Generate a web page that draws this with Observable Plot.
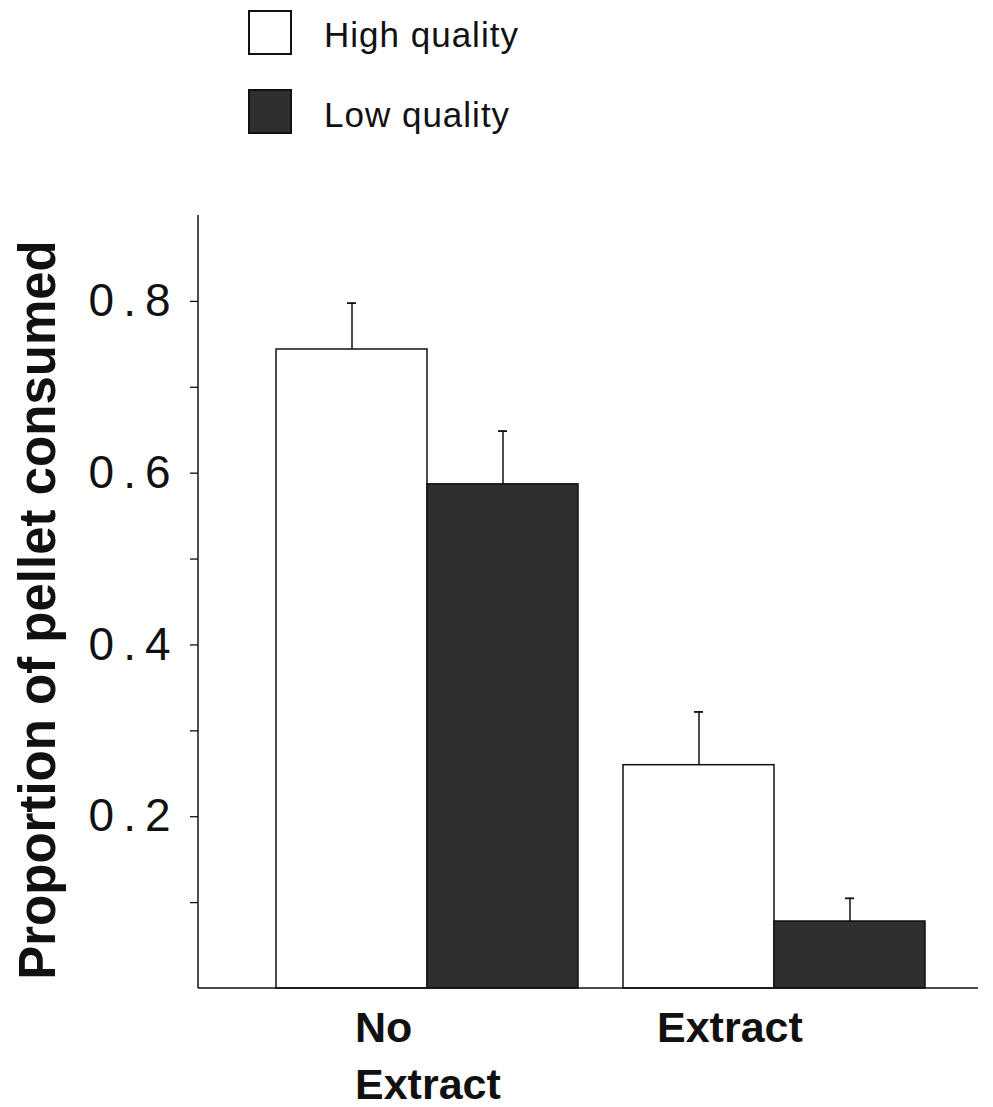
<!DOCTYPE html>
<html>
<head>
<meta charset="utf-8">
<script src="https://cdn.jsdelivr.net/npm/d3@7"></script>
<script src="https://cdn.jsdelivr.net/npm/@observablehq/plot@0.6"></script>
<style>
  body { margin: 0; background: #fff; font-family: "Liberation Sans", Arial, Helvetica, sans-serif; }
  #wrap { position: relative; width: 993px; height: 1107px; overflow: hidden; }
  .legend-box { position: absolute; left: 248px; width: 40px; height: 41px; border: 2px solid #111; }
  .legend-text { position: absolute; left: 324px; font-size: 35px; letter-spacing: 1px; color: #111; line-height: 1; }
  #chart { position: absolute; left: 0; top: 180px; }
</style>
</head>
<body>
<div id="wrap">
  <div class="legend-box" style="top:10px; background:#fff;"></div>
  <div class="legend-text" style="top:17px;">High quality</div>
  <div class="legend-box" style="top:89px; background:#2f2f2f;"></div>
  <div class="legend-text" style="top:97px;">Low quality</div>
  <div id="chart"></div>
</div>
<script>
// Data
const groups = ["No Extract", "No Extract", "Extract", "Extract"];
const qualities = ["High quality", "Low quality", "High quality", "Low quality"];
const means = [0.744, 0.587, 0.260, 0.078];
const errors = [0.054, 0.062, 0.062, 0.027];

const groupOrder = ["No Extract", "Extract"];
const groupLabels = ["No\nExtract", "Extract"];
const qualityOrder = ["High quality", "Low quality"];
const qualityFills = ["#ffffff", "#2f2f2f"];
const majorTicks = [0.2, 0.4, 0.6, 0.8];
const minorTicks = [0.1, 0.2, 0.3, 0.4, 0.5, 0.6, 0.7, 0.8];
const yTitle = ["Proportion of pellet consumed"];

const data = groups.map((g, i) => ({group: g, quality: qualities[i], value: means[i], err: errors[i]}));
const labelData = groupOrder.map((g, i) => ({group: g, label: groupLabels[i]}));
const titleData = yTitle.map(t => ({group: groupOrder[0], label: t}));

const font = "'Liberation Sans', Arial, Helvetica, sans-serif";
const axisShift = -77; // facet band starts right of the y axis line

const plot = Plot.plot({
  width: 993,
  height: 927,
  marginTop: 35,
  marginBottom: 119,
  marginLeft: 198,
  marginRight: 15,
  style: {fontFamily: font, color: "#111", background: "#fff"},
  fx: {domain: groupOrder, paddingInner: 0.127, paddingOuter: 0.187, align: 0.59, axis: null, label: null},
  x: {domain: qualityOrder, padding: 0, axis: null, label: null},
  y: {domain: [0, 0.9], axis: null},
  color: {domain: qualityOrder, range: qualityFills},
  marks: [
    Plot.axisY({ticks: minorTicks, tickSize: 8, tickFormat: () => "", strokeWidth: 1.3, label: null, dx: axisShift}),
    Plot.axisY({ticks: majorTicks, tickSize: 0, tickPadding: 19, tickFormat: d => d.toFixed(1), fontSize: 46, label: null, dx: axisShift}),
    Plot.text(titleData, {fx: "group", text: "label", frameAnchor: "left", rotate: -90, lineAnchor: "middle", textAnchor: "middle", dx: -237, dy: 8, fontSize: 51, fontWeight: "bold", fill: "#111"}),
    Plot.ruleX(data, {fx: "group", x: "quality", y1: "value", y2: d => d.value + d.err, stroke: "#111", strokeWidth: 1.5}),
    Plot.tickY(data, {fx: "group", x: "quality", y: d => d.value + d.err, stroke: "#111", strokeWidth: 1.8, insetLeft: 71, insetRight: 71}),
    Plot.barY(data, {fx: "group", x: "quality", y: "value", fill: "quality", stroke: "#111", strokeWidth: 1.5}),
    Plot.text(labelData.filter(d => d.group === "No Extract"), {fx: "group", text: "label", frameAnchor: "bottom", lineAnchor: "top", textAnchor: "start", dx: -72, dy: 13, fontSize: 43, fontWeight: "bold", lineHeight: 1.33, fill: "#111"}),
    Plot.text(labelData.filter(d => d.group === "Extract"), {fx: "group", text: "label", frameAnchor: "bottom", lineAnchor: "top", textAnchor: "start", dx: -117, dy: 13, fontSize: 43, fontWeight: "bold", lineHeight: 1.33, fill: "#111"})
  ]
});

// Axis lines (L-shaped frame), positioned with the plot's own y scale
const ys = plot.scale("y");
const svg = d3.select(plot.tagName.toLowerCase() === "svg" ? plot : plot.querySelector("svg"));
const y0 = ys.apply(0), yTop = ys.apply(0.9);
svg.append("line").attr("x1", 198).attr("x2", 978).attr("y1", y0).attr("y2", y0).attr("stroke", "#111").attr("stroke-width", 1.5);
svg.append("line").attr("x1", 198).attr("x2", 198).attr("y1", y0).attr("y2", yTop).attr("stroke", "#111").attr("stroke-width", 1.5);
// Wide letter spacing of the scanned tick labels
svg.selectAll("g[aria-label='y-axis tick label'] text").style("letter-spacing", "9px");

document.getElementById("chart").appendChild(plot);
</script>
</body>
</html>
